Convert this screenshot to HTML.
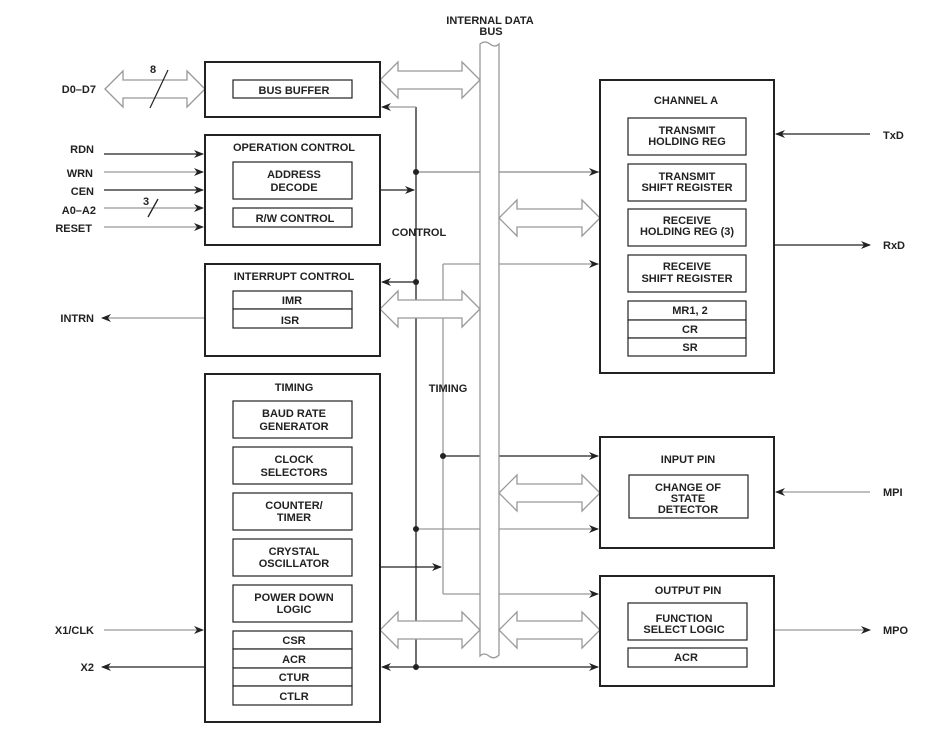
<!DOCTYPE html>
<html><head><meta charset="utf-8"><style>
html,body{margin:0;padding:0;background:#fff}
svg text{font-family:"Liberation Sans",Arial,sans-serif;font-weight:bold;font-size:11px;fill:#222}
</style></head><body>
<svg width="948" height="740" viewBox="0 0 948 740" xmlns="http://www.w3.org/2000/svg">
<defs>
<marker id="a" markerWidth="10" markerHeight="8" refX="9" refY="4" orient="auto" markerUnits="userSpaceOnUse"><path d="M0,0 L10,4 L0,8 L3,4 Z" fill="#222"/></marker>
</defs>
<g fill="none" stroke-width="1.3">
<!-- control & timing lines -->
<path d="M416,107 V668" stroke="#222"/>
<path d="M443,264 V594" stroke="#999"/>
<path d="M416,107 H382" stroke="#999" marker-end="url(#a)"/>
<path d="M416,172 H600" stroke="#999"/>
<path d="M380,190 H414" stroke="#222" marker-end="url(#a)"/>
<path d="M416,282 H382" stroke="#222" marker-end="url(#a)"/>
<path d="M443,264 H598" stroke="#999" marker-end="url(#a)"/>
<path d="M443,456 H598" stroke="#222" marker-end="url(#a)"/>
<path d="M416,529 H598" stroke="#999" marker-end="url(#a)"/>
<path d="M380,567 H441" stroke="#222" marker-end="url(#a)"/>
<path d="M443,594 H598" stroke="#999" marker-end="url(#a)"/>
<path d="M416,667 H598" stroke="#222" marker-end="url(#a)"/>
<path d="M416,667 H382" stroke="#222" marker-end="url(#a)"/>
<path d="M416,172 H598" stroke="#999" marker-end="url(#a)"/>
<!-- left signals -->
<path d="M104,154 H203" stroke="#222" marker-end="url(#a)"/>
<path d="M104,172 H203" stroke="#999" marker-end="url(#a)"/>
<path d="M104,190 H203" stroke="#222" marker-end="url(#a)"/>
<path d="M104,208 H203" stroke="#999" marker-end="url(#a)"/>
<path d="M104,227 H203" stroke="#999" marker-end="url(#a)"/>
<path d="M148,217 L158,199" stroke="#222"/>
<path d="M205,318 H102" stroke="#999" marker-end="url(#a)"/>
<path d="M104,630 H203" stroke="#999" marker-end="url(#a)"/>
<path d="M205,667 H102" stroke="#222" marker-end="url(#a)"/>
<!-- right signals -->
<path d="M870,134 H776" stroke="#222" marker-end="url(#a)"/>
<path d="M774,245 H870" stroke="#222" marker-end="url(#a)"/>
<path d="M870,492 H776" stroke="#999" marker-end="url(#a)"/>
<path d="M774,630 H870" stroke="#999" marker-end="url(#a)"/>
</g>
<!-- bus -->
<path d="M480,44 Q485,40 490,44 T499,44 V655 Q494,660 489,656 T480,656 Z" fill="#fff" stroke="#999" stroke-width="1.3"/>
<!-- double arrows -->
<g fill="#fff" stroke="#999" stroke-width="1.3">
<path d="M105,89 L123,71 L123,80 L187,80 L187,71 L205,89 L187,107 L187,98 L123,98 L123,107 Z"/>
<path d="M380,80 L398,62 L398,71 L462,71 L462,62 L480,80 L462,98 L462,89 L398,89 L398,98 Z"/>
<path d="M499,218 L517,200 L517,209 L582,209 L582,200 L600,218 L582,236 L582,227 L517,227 L517,236 Z"/>
<path d="M380,309 L398,291 L398,300 L462,300 L462,291 L480,309 L462,327 L462,318 L398,318 L398,327 Z"/>
<path d="M499,493 L517,475 L517,484 L582,484 L582,475 L600,493 L582,511 L582,502 L517,502 L517,511 Z"/>
<path d="M380,630 L398,612 L398,621 L462,621 L462,612 L480,630 L462,648 L462,639 L398,639 L398,648 Z"/>
<path d="M499,630 L517,612 L517,621 L582,621 L582,612 L600,630 L582,648 L582,639 L517,639 L517,648 Z"/>
</g>
<path d="M150,108 L168,70" stroke="#222" stroke-width="1.2"/>
<g fill="#222"><circle cx="416" cy="172" r="3"/><circle cx="416" cy="282" r="3"/><circle cx="416" cy="529" r="3"/><circle cx="416" cy="667" r="3"/><circle cx="443" cy="456" r="3"/></g>
<!-- boxes -->
<g fill="#fff" stroke="#222" stroke-width="2">
<rect x="205" y="62" width="175" height="55"/>
<rect x="205" y="135" width="175" height="110"/>
<rect x="205" y="264" width="175" height="92"/>
<rect x="205" y="374" width="175" height="348"/>
<rect x="600" y="80" width="174" height="293"/>
<rect x="600" y="437" width="174" height="111"/>
<rect x="600" y="576" width="174" height="110"/>
</g>
<g fill="#fff" stroke="#222" stroke-width="1.2">
<rect x="233" y="80" width="119" height="18"/>
<rect x="233" y="162" width="119" height="37"/>
<rect x="233" y="208" width="119" height="19"/>
<rect x="233" y="291" width="119" height="18"/><rect x="233" y="309" width="119" height="19"/>
<rect x="233" y="401" width="119" height="37"/><rect x="233" y="447" width="119" height="37"/>
<rect x="233" y="493" width="119" height="37"/><rect x="233" y="539" width="119" height="37"/>
<rect x="233" y="585" width="119" height="37"/>
<rect x="233" y="631" width="119" height="18"/><rect x="233" y="649" width="119" height="19"/>
<rect x="233" y="668" width="119" height="18"/><rect x="233" y="686" width="119" height="19"/>
<rect x="628" y="118" width="118" height="37"/><rect x="628" y="164" width="118" height="37"/>
<rect x="628" y="209" width="118" height="37"/><rect x="628" y="255" width="118" height="37"/>
<rect x="628" y="301" width="118" height="19"/><rect x="628" y="320" width="118" height="18"/><rect x="628" y="338" width="118" height="18"/>
<rect x="629" y="475" width="119" height="43"/>
<rect x="628" y="603" width="119" height="37"/><rect x="628" y="648" width="119" height="19"/>
</g>
<g text-anchor="middle">
<text x="490" y="24">INTERNAL DATA</text><text x="491" y="35">BUS</text>
<text x="294" y="94">BUS BUFFER</text>
<text x="294" y="151">OPERATION CONTROL</text>
<text x="294" y="178">ADDRESS</text><text x="294" y="191">DECODE</text>
<text x="295" y="222">R/W CONTROL</text>
<text x="294" y="280">INTERRUPT CONTROL</text>
<text x="292" y="304">IMR</text><text x="290" y="324">ISR</text>
<text x="294" y="391">TIMING</text>
<text x="294" y="417">BAUD RATE</text><text x="294" y="430">GENERATOR</text>
<text x="294" y="463">CLOCK</text><text x="294" y="476">SELECTORS</text>
<text x="294" y="509">COUNTER/</text><text x="294" y="521">TIMER</text>
<text x="294" y="555">CRYSTAL</text><text x="294" y="567">OSCILLATOR</text>
<text x="294" y="601">POWER DOWN</text><text x="294" y="613">LOGIC</text>
<text x="294" y="644">CSR</text><text x="294" y="663">ACR</text><text x="294" y="681">CTUR</text><text x="294" y="700">CTLR</text>
<text x="419" y="236">CONTROL</text>
<text x="448" y="392">TIMING</text>
<text x="686" y="104">CHANNEL A</text>
<text x="687" y="134">TRANSMIT</text><text x="687" y="145">HOLDING REG</text>
<text x="687" y="180">TRANSMIT</text><text x="687" y="191">SHIFT REGISTER</text>
<text x="687" y="224">RECEIVE</text><text x="687" y="235">HOLDING REG (3)</text>
<text x="687" y="270">RECEIVE</text><text x="687" y="282">SHIFT REGISTER</text>
<text x="690" y="314">MR1, 2</text><text x="690" y="333">CR</text><text x="690" y="351">SR</text>
<text x="688" y="463">INPUT PIN</text>
<text x="688" y="491">CHANGE OF</text><text x="688" y="502">STATE</text><text x="688" y="513">DETECTOR</text>
<text x="688" y="594">OUTPUT PIN</text>
<text x="684" y="622">FUNCTION</text><text x="684" y="633">SELECT LOGIC</text>
<text x="686" y="661">ACR</text>
</g>
<g text-anchor="end">
<text x="96" y="93">D0–D7</text>
<text x="94" y="153">RDN</text><text x="93" y="177">WRN</text><text x="94" y="195">CEN</text>
<text x="96" y="214">A0–A2</text><text x="92" y="232">RESET</text>
<text x="94" y="322">INTRN</text>
<text x="94" y="634">X1/CLK</text><text x="94" y="671">X2</text>
</g>
<text x="150" y="73">8</text><text x="143" y="205">3</text>
<text x="883" y="139">TxD</text><text x="883" y="249">RxD</text>
<text x="883" y="496">MPI</text><text x="883" y="634">MPO</text>
</svg>
</body></html>
